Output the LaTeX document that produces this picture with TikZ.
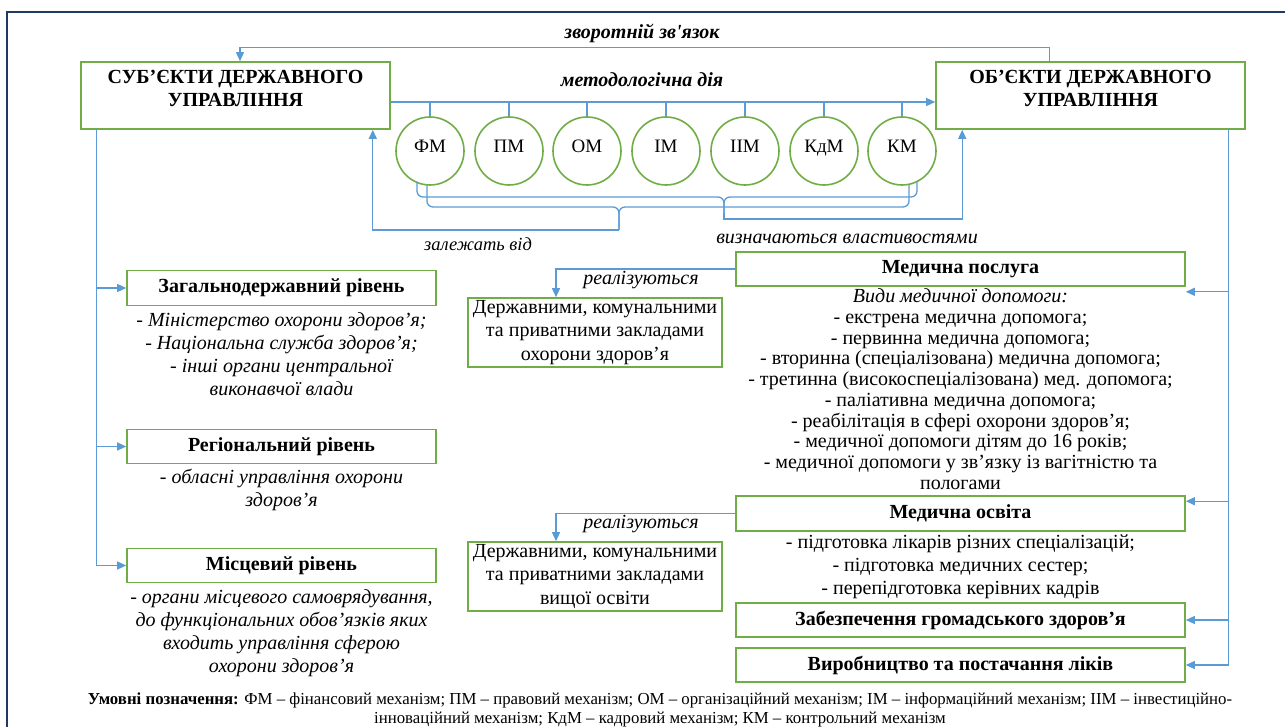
\documentclass[tikz,border=0pt]{standalone}
\usepackage{fontspec}
\setmainfont{Liberation Serif}
\usetikzlibrary{arrows.meta,positioning}
\definecolor{boxgreen}{HTML}{70AD47}
\definecolor{linkblue}{HTML}{5B9BD5}
\definecolor{framenavy}{HTML}{1F3864}

\begin{document}
\begin{tikzpicture}[x=1pt,y=-1pt,>={Triangle[length=9pt,width=8pt]},
    box/.style={draw=boxgreen,line width=1.6pt,inner sep=2pt,align=center,
                font=\bfseries\fontsize{20}{23}\selectfont},
    mech/.style={circle,draw=boxgreen,line width=1.6pt,minimum size=68pt,
                 inner sep=0pt,text height=14pt,text depth=11pt,font=\fontsize{19}{20}\selectfont},
    link/.style={draw=linkblue,line width=1.3pt},
    flow/.style={link,->},
    brace/.style={link,rounded corners=6pt},
    note/.style={align=center,inner sep=0pt},
    tag/.style={font=\itshape\fontsize{20}{20}\selectfont}]
  \useasboundingbox (0,0) rectangle (1285,727);
  \draw[framenavy,line width=2pt] (7,727) -- (7,12) -- (1285,12);

  % subjects and objects
  \node[box,minimum width=309pt,minimum height=67pt,text depth=14pt] (subj) at (235.5,95.5)
       {СУБ’ЄКТИ ДЕРЖАВНОГО\\УПРАВЛІННЯ};
  \node[box,minimum width=309pt,minimum height=67pt,text depth=14pt] (obj) at (1090.5,95.5)
       {ОБ’ЄКТИ ДЕРЖАВНОГО\\УПРАВЛІННЯ};

  % mechanisms
  \foreach \name/\lbl/\x in {fm/ФМ/430,pm/ПМ/509,om/ОМ/587,im/ІМ/666,iim/ІІМ/745,kdm/КдМ/824,km/КМ/902}
    \node[mech] (\name) at (\x,151) {\lbl};

  \draw[flow] (subj.east |- 0,102) -- (obj.west |- 0,102);
  \foreach \name in {fm,pm,om,im,iim,kdm,km}
    \draw[link] (\name.north) -- (\name.north |- 0,102);
  \node[font=\bfseries\itshape\fontsize{20}{20}\selectfont] (methlbl) at (642,80) {методологічна дія};

  % feedback
  \draw[flow] ([xshift=114pt]obj.north west) -- ++(0,-14) -| ([xshift=4.5pt]subj.north);
  \node[font=\bfseries\itshape\fontsize{20}{20}\selectfont] (fblbl) at (642,33) {зворотній зв\textquotesingle язок};

  % braces
  \coordinate (tipU) at (724,213);
  \coordinate (tipL) at (619,230);
  \draw[brace] (417,182) |- (tipU |- 0,197) -- (tipU);
  \draw[brace] (917,182) |- (tipU |- 0,197) -- (tipU);
  \draw[brace] (427,185) |- (tipL |- 0,207) -- (tipL);
  \draw[brace] (909,185) |- (tipL |- 0,207) -- (tipL);
  \draw[flow] (tipU) -- ++(0,6) -| ([xshift=27pt]obj.south west);
  \draw[flow] (tipL) -| ([xshift=-18pt]subj.south east);
  \node[font=\itshape\fontsize{18.5}{20}\selectfont] (deplbl) at (478,244) {залежать від};
  \node[tag] (proplbl) at (847,239) {визначаються властивостями};

  % levels of government
  \node[box,minimum width=309pt,minimum height=35pt] (lvl1) at (281.5,288) {Загальнодержавний рівень};
  \node[box,minimum width=309pt,minimum height=34pt] (lvl2) at (281.5,446.5) {Регіональний рівень};
  \node[box,minimum width=309pt,minimum height=34pt] (lvl3) at (281.5,565.5) {Місцевий рівень};
  \node[note,font=\itshape\fontsize{20}{23}\selectfont,below=6pt of lvl1] (lvl1txt)
       {- Міністерство охорони здоров’я;\\- Національна служба здоров’я;\\- інші органи центральної\\виконавчої влади};
  \node[note,font=\itshape\fontsize{20}{23}\selectfont,below=5pt of lvl2] (lvl2txt)
       {- обласні управління охорони\\здоров’я};
  \node[note,font=\itshape\fontsize{20}{23}\selectfont,below=6pt of lvl3] (lvl3txt)
       {- органи місцевого самоврядування,\\до функціональних обов’язків яких\\входить управління сферою\\охорони здоров’я};

  \coordinate (lv) at ([xshift=16pt]subj.south west);
  \draw[flow] (lv) |- (lvl3.west);
  \draw[flow] (lv |- lvl1.west) -- (lvl1.west);
  \draw[flow] (lv |- lvl2.west) -- (lvl2.west);

  % objects side
  \node[box,minimum width=449pt,minimum height=34pt] (serv) at (960.5,269) {Медична послуга};
  \node[note,font=\fontsize{20}{20.7}\selectfont,below=2pt of serv] (servtxt)
       {\textit{Види медичної допомоги:}\\- екстрена медична допомога;\\- первинна медична допомога;\\
        - вторинна (спеціалізована) медична допомога;\\- третинна (високоспеціалізована) мед. допомога;\\
        - паліативна медична допомога;\\- реабілітація в сфері охорони здоров’я;\\
        - медичної допомоги дітям до 16 років;\\- медичної допомоги у зв’язку із вагітністю та\\пологами};
  \node[box,minimum width=449pt,minimum height=35pt] (edu) at (960.5,513.5) {Медична освіта};
  \node[note,font=\fontsize{20}{23}\selectfont,below=3pt of edu] (edutxt)
       {- підготовка лікарів різних спеціалізацій;\\- підготовка медичних сестер;\\- перепідготовка керівних кадрів};
  \node[box,minimum width=449pt,minimum height=34pt] (pub) at (960.5,620) {Забезпечення громадського здоров’я};
  \node[box,minimum width=449pt,minimum height=34pt] (prod) at (960.5,665) {Виробництво та постачання ліків};

  \node[box,font=\fontsize{20}{23.5}\selectfont,minimum width=254pt,minimum height=69pt] (inst1) at (595,332.5)
       {Державними, комунальними\\та приватними закладами\\охорони здоров’я};
  \node[box,font=\fontsize{20}{23.5}\selectfont,minimum width=254pt,minimum height=69pt] (inst2) at (595,576.5)
       {Державними, комунальними\\та приватними закладами\\вищої освіти};
  \draw[flow] (serv.west) -| ([xshift=-39pt]inst1.north);
  \draw[flow] (edu.west) -| ([xshift=-39pt]inst2.north);
  \node[tag] (real1) at (641,280) {реалізуються};
  \node[tag] (real2) at (641,524) {реалізуються};

  \coordinate (rv) at ([xshift=-17pt]obj.south east);
  \coordinate (servin) at ([yshift=-5pt]serv.south east);
  \coordinate (eduin) at ([yshift=-6pt]edu.north east);
  \draw[flow] (rv) |- (prod.east);
  \draw[flow] (rv |- servin) -- (servin);
  \draw[flow] (rv |- eduin) -- (eduin);
  \draw[flow] (rv |- pub.east) -- (pub.east);

  % legend
  \node[note,font=\fontsize{16.8}{19}\selectfont] (legend) at (660,709.5)
       {\textbf{Умовні позначення:} ФМ – фінансовий механізм; ПМ – правовий механізм; ОМ – організаційний механізм; ІМ – інформаційний механізм; ІІМ – інвестиційно-\\
        інноваційний механізм; КдМ – кадровий механізм; КМ – контрольний механізм};
\end{tikzpicture}
\end{document}
